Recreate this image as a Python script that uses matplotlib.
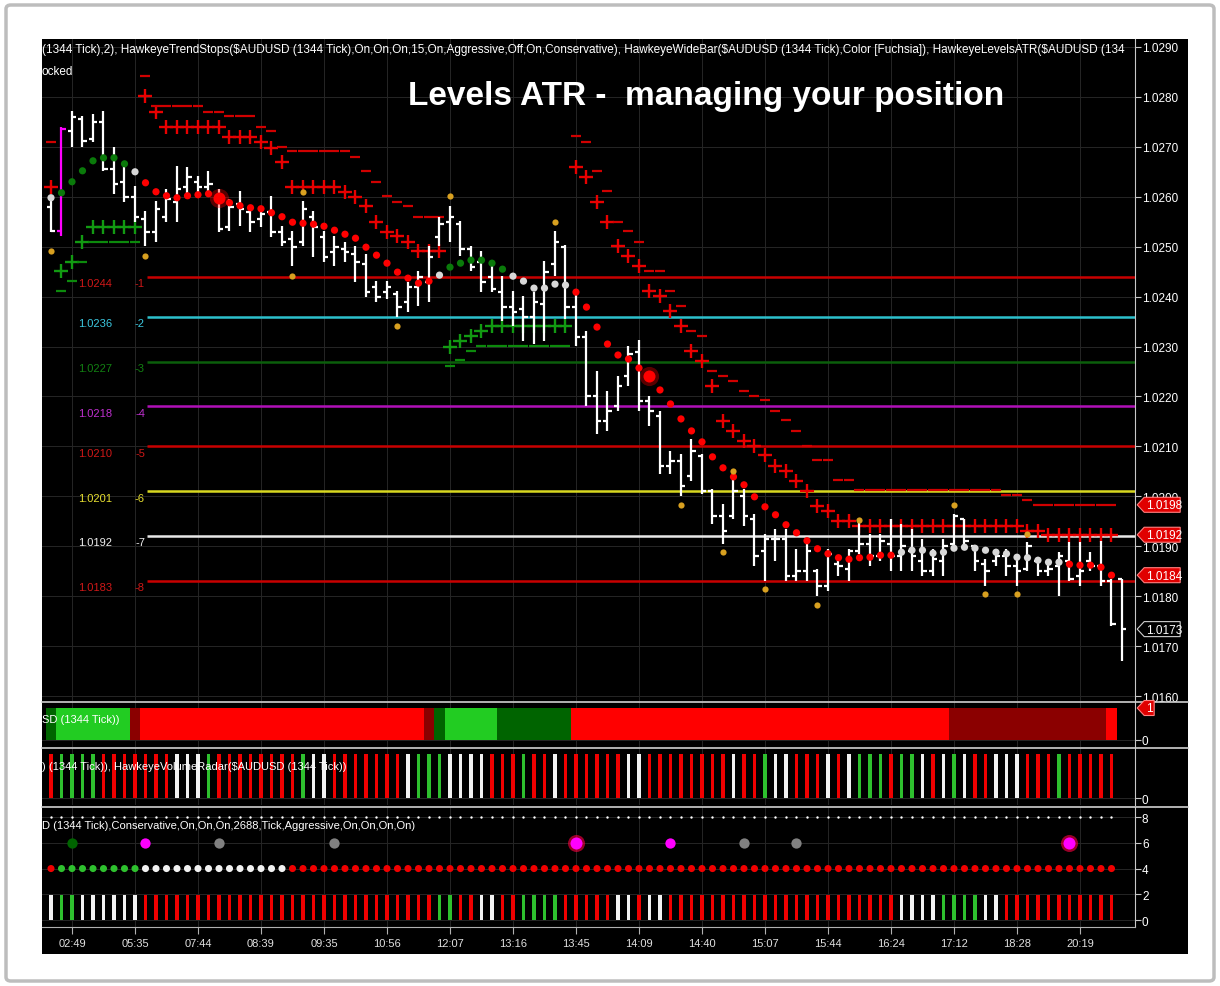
import numpy as np
import matplotlib
matplotlib.use("Agg")
import matplotlib.pyplot as plt
from matplotlib.patches import Rectangle, Polygon, FancyBboxPatch
from matplotlib.lines import Line2D
from matplotlib.transforms import ScaledTranslation

plt.rcParams['font.family'] = ['Liberation Sans', 'DejaVu Sans']

nan = np.nan

# ---- time axis ----
time_labels = ["02:49", "05:35", "07:44", "08:39", "09:35", "10:56", "12:07", "13:16", "13:45",
               "14:09", "14:40", "15:07", "15:44", "16:24", "17:12", "18:28", "20:19"]
time_label_bars = [2, 8, 14, 20, 26, 32, 38, 44, 50, 56, 62, 68, 74, 80, 86, 92, 98]

# ---- 1344 tick bars, AUDUSD ----
bar_open = [
    1.02580, 1.02531, 1.02732, 1.02755, 1.02715, 1.02750, 1.02655, 1.02630, 1.02600, 1.02555,
    1.02530, 1.02560, 1.02590, 1.02620, 1.02630, 1.02620, 1.02600, 1.02540, 1.02585, 1.02570,
    1.02555, 1.02570, 1.02530, 1.02515, 1.02510, 1.02560, 1.02520, 1.02490, 1.02495, 1.02485,
    1.02465, 1.02420, 1.02410, 1.02405, 1.02390, 1.02420, 1.02430, 1.02520, 1.02550, 1.02545,
    1.02495, 1.02470, 1.02440, 1.02410, 1.02380, 1.02375, 1.02360, 1.02385, 1.02465, 1.02500,
    1.02380, 1.02320, 1.02200, 1.02150, 1.02180, 1.02240, 1.02290, 1.02190, 1.02160, 1.02060,
    1.02070, 1.02040, 1.02080, 1.02010, 1.01960, 1.01960, 1.02000, 1.01955, 1.01890, 1.01915,
    1.01915, 1.01840, 1.01850, 1.01850, 1.01820, 1.01865, 1.01855, 1.01890, 1.01905, 1.01880,
    1.01905, 1.01880, 1.01890, 1.01870, 1.01850, 1.01870, 1.01905, 1.01955, 1.01900, 1.01865,
    1.01870, 1.01880, 1.01860, 1.01855, 1.01870, 1.01850, 1.01860, 1.01870, 1.01840, 1.01870,
    1.01860, 1.01830, 1.01834]
bar_high = [
    1.02596, 1.02740, 1.02772, 1.02762, 1.02766, 1.02772, 1.02700, 1.02670, 1.02622, 1.02572,
    1.02592, 1.02616, 1.02662, 1.02660, 1.02642, 1.02652, 1.02616, 1.02596, 1.02612, 1.02576,
    1.02582, 1.02602, 1.02541, 1.02531, 1.02592, 1.02572, 1.02531, 1.02521, 1.02509, 1.02501,
    1.02485, 1.02431, 1.02431, 1.02411, 1.02429, 1.02451, 1.02501, 1.02560, 1.02582, 1.02551,
    1.02501, 1.02491, 1.02471, 1.02441, 1.02411, 1.02401, 1.02409, 1.02471, 1.02531, 1.02503,
    1.02405, 1.02331, 1.02251, 1.02211, 1.02241, 1.02301, 1.02313, 1.02201, 1.02171, 1.02091,
    1.02085, 1.02115, 1.02085, 1.02015, 1.01985, 1.02035, 1.02015, 1.01965, 1.01925, 1.01935,
    1.01935, 1.01894, 1.01909, 1.01854, 1.01894, 1.01874, 1.01894, 1.01955, 1.01925, 1.01925,
    1.01955, 1.01945, 1.01935, 1.01915, 1.01894, 1.01915, 1.01965, 1.01955, 1.01901, 1.01874,
    1.01888, 1.01894, 1.01880, 1.01909, 1.01874, 1.01870, 1.01888, 1.01909, 1.01909, 1.01888,
    1.01911, 1.01834, 1.01834]
bar_low = [
    1.02529, 1.02521, 1.02700, 1.02700, 1.02710, 1.02652, 1.02606, 1.02590, 1.02549, 1.02501,
    1.02509, 1.02549, 1.02549, 1.02606, 1.02610, 1.02610, 1.02529, 1.02531, 1.02541, 1.02529,
    1.02539, 1.02519, 1.02501, 1.02461, 1.02501, 1.02479, 1.02469, 1.02461, 1.02469, 1.02429,
    1.02399, 1.02389, 1.02395, 1.02359, 1.02369, 1.02381, 1.02389, 1.02501, 1.02509, 1.02481,
    1.02451, 1.02409, 1.02409, 1.02351, 1.02341, 1.02311, 1.02305, 1.02311, 1.02441, 1.02355,
    1.02301, 1.02181, 1.02125, 1.02131, 1.02171, 1.02221, 1.02171, 1.02141, 1.02045, 1.02045,
    1.02001, 1.02031, 1.02005, 1.01945, 1.01905, 1.01955, 1.01941, 1.01860, 1.01830, 1.01870,
    1.01830, 1.01830, 1.01830, 1.01800, 1.01810, 1.01840, 1.01830, 1.01884, 1.01860, 1.01870,
    1.01850, 1.01850, 1.01850, 1.01840, 1.01840, 1.01840, 1.01901, 1.01901, 1.01850, 1.01820,
    1.01860, 1.01840, 1.01820, 1.01850, 1.01840, 1.01840, 1.01800, 1.01830, 1.01820, 1.01850,
    1.01820, 1.01740, 1.01670]
bar_close = [
    1.02531, 1.02736, 1.02760, 1.02712, 1.02750, 1.02655, 1.02625, 1.02600, 1.02560, 1.02530,
    1.02575, 1.02595, 1.02615, 1.02640, 1.02620, 1.02625, 1.02535, 1.02580, 1.02575, 1.02550,
    1.02565, 1.02530, 1.02510, 1.02500, 1.02575, 1.02540, 1.02480, 1.02500, 1.02490, 1.02470,
    1.02410, 1.02400, 1.02420, 1.02380, 1.02420, 1.02440, 1.02480, 1.02545, 1.02560, 1.02495,
    1.02460, 1.02430, 1.02415, 1.02380, 1.02370, 1.02360, 1.02390, 1.02450, 1.02510, 1.02380,
    1.02320, 1.02200, 1.02150, 1.02170, 1.02220, 1.02285, 1.02190, 1.02170, 1.02060, 1.02070,
    1.02020, 1.02090, 1.02010, 1.01960, 1.01930, 1.02010, 1.01960, 1.01880, 1.01915, 1.01915,
    1.01840, 1.01850, 1.01890, 1.01820, 1.01885, 1.01860, 1.01890, 1.01905, 1.01880, 1.01910,
    1.01880, 1.01900, 1.01880, 1.01850, 1.01875, 1.01900, 1.01960, 1.01910, 1.01870, 1.01850,
    1.01880, 1.01860, 1.01850, 1.01900, 1.01850, 1.01855, 1.01880, 1.01835, 1.01850, 1.01860,
    1.01830, 1.01745, 1.01734]
wide_bars = [1]

# ---- HawkeyeTrendStops: aggressive (+) and conservative (-) ----
stop_plus = [
    1.02620, 1.02451, 1.02469, 1.02509, 1.02539, 1.02539, 1.02539, 1.02539, 1.02539, 1.02802,
    1.02770, 1.02740, 1.02740, 1.02740, 1.02740, 1.02740, 1.02740, 1.02720, 1.02720, 1.02720,
    1.02710, 1.02698, 1.02670, 1.02620, 1.02620, 1.02620, 1.02620, 1.02620, 1.02610, 1.02600,
    1.02582, 1.02549, 1.02529, 1.02521, 1.02509, 1.02491, 1.02491, 1.02491, 1.02299, 1.02311,
    1.02321, 1.02331, 1.02341, 1.02341, 1.02341, 1.02341, 1.02341, 1.02341, 1.02341, 1.02341,
    1.02660, 1.02640, 1.02590, 1.02549, 1.02501, 1.02481, 1.02461, 1.02411, 1.02401, 1.02371,
    1.02341, 1.02291, 1.02271, 1.02221, 1.02151, 1.02131, 1.02111, 1.02101, 1.02083, 1.02061,
    1.02051, 1.02031, 1.02011, 1.01981, 1.01971, 1.01951, 1.01951, 1.01941, 1.01941, 1.01941,
    1.01941, 1.01941, 1.01941, 1.01941, 1.01941, 1.01941, 1.01941, 1.01941, 1.01941, 1.01941,
    1.01941, 1.01941, 1.01941, 1.01931, 1.01931, 1.01923, 1.01923, 1.01923, 1.01923, 1.01923,
    1.01923, 1.01923]
stop_dash = [
    1.02710, 1.02411, 1.02431, 1.02469, 1.02509, 1.02509, 1.02509, 1.02509, 1.02509, 1.02842,
    1.02782, 1.02782, 1.02782, 1.02782, 1.02782, 1.02770, 1.02770, 1.02762, 1.02762, 1.02762,
    1.02740, 1.02732, 1.02700, 1.02692, 1.02692, 1.02692, 1.02692, 1.02692, 1.02692, 1.02680,
    1.02652, 1.02630, 1.02602, 1.02590, 1.02582, 1.02560, 1.02560, 1.02560, 1.02261, 1.02273,
    1.02291, 1.02301, 1.02301, 1.02301, 1.02301, 1.02301, 1.02301, 1.02301, 1.02301, 1.02301,
    1.02722, 1.02710, 1.02652, 1.02612, 1.02549, 1.02531, 1.02509, 1.02451, 1.02451, 1.02411,
    1.02381, 1.02331, 1.02321, 1.02251, 1.02241, 1.02231, 1.02211, 1.02201, 1.02193, 1.02171,
    1.02153, 1.02131, 1.02101, 1.02073, 1.02073, 1.02033, 1.02033, 1.02013, 1.02013, 1.02013,
    1.02013, 1.02013, 1.02013, 1.02013, 1.02013, 1.02013, 1.02013, 1.02013, 1.02013, 1.02013,
    1.02013, 1.02003, 1.02003, 1.01993, 1.01983, 1.01983, 1.01983, 1.01983, 1.01983, 1.01983,
    1.01983, 1.01983]
up_spans = [(1, 8), (38, 49)]

# ---- trailing dots ----
trail_dots = [
    1.02598, 1.02608, 1.02630, 1.02652, 1.02672, 1.02678, 1.02678, 1.02666, 1.02650, 1.02628,
    1.02610, 1.02602, 1.02598, 1.02602, 1.02604, 1.02606, 1.02598, 1.02588, 1.02582, 1.02578,
    1.02576, 1.02568, 1.02560, 1.02549, 1.02547, 1.02545, 1.02541, 1.02533, 1.02525, 1.02517,
    1.02499, 1.02483, 1.02467, 1.02449, 1.02437, 1.02427, 1.02431, 1.02443, 1.02459, 1.02467,
    1.02473, 1.02473, 1.02467, 1.02455, 1.02441, 1.02431, 1.02417, 1.02417, 1.02425, 1.02423,
    1.02409, 1.02379, 1.02339, 1.02305, 1.02283, 1.02275, 1.02257, 1.02241, 1.02213, 1.02185,
    1.02155, 1.02131, 1.02109, 1.02079, 1.02057, 1.02039, 1.02023, 1.01999, 1.01979, 1.01963,
    1.01943, 1.01927, 1.01911, 1.01895, 1.01885, 1.01877, 1.01874, 1.01877, 1.01878, 1.01882,
    1.01882, 1.01888, 1.01892, 1.01892, 1.01886, 1.01888, 1.01896, 1.01898, 1.01896, 1.01892,
    1.01888, 1.01885, 1.01878, 1.01877, 1.01872, 1.01868, 1.01868, 1.01864, 1.01862, 1.01862,
    1.01858, 1.01842]
trail_runs = [('w', 1), ('g', 7), ('w', 1), ('r', 28), ('w', 1), ('g', 6), ('w', 6),
              ('r', 31), ('w', 16), ('r', 5)]
trail_big = [16, 57]

# swing markers
swing_bars = [0, 9, 23, 24, 33, 38, 48, 60, 64, 65, 68, 73, 77, 86, 89, 92, 93]
swing_vals = [1.02491, 1.02481, 1.02441, 1.02610, 1.02341, 1.02602, 1.02549, 1.01983, 1.01888,
              1.02051, 1.01814, 1.01782, 1.01953, 1.01983, 1.01804, 1.01804, 1.01925]

# ---- Levels ATR ----
level_values = [1.0244, 1.0236, 1.0227, 1.0218, 1.0210, 1.0201, 1.0192, 1.0183]
level_names = ["-1", "-2", "-3", "-4", "-5", "-6", "-7", "-8"]
level_line_colors = ['#c80000', '#2cc0cc', '#0b5e0b', '#b010b8', '#c80000', '#d8d820', '#e8e8e8', '#c80000']
level_text_colors = ['#d01818', '#3cc8e0', '#128012', '#c030d0', '#d01818', '#e8e030', '#f0f0f0', '#d01818']

# ---- lower panels ----
trend_runs = [('dkgreen', 1), ('green', 7), ('dkred', 1), ('red', 27), ('dkred', 1), ('dkgreen', 1),
              ('green', 5), ('dkgreen', 7), ('red', 36), ('dkred', 15), ('red', 1)]
volume_radar = ("rggggrrrrr" "rrwwwgrrrr" "rrrrgwwrrr" "rrrrwgggww" "wwrrrgrrwr"
                "rrrrrwwrrr" "rrrrrwrrgw" "wrrrwrwggg" "rggwrwgwrr" "wwwrrrgrrr" "rr")
signal_bars = ("wggwwwwwwr" "rrrrrrrrrr" "rrrrrrrrrr" "rrrrrrrggr" "rwwrrggggr"
               "rrrrwwrwwr" "rrrrrrrrrr" "rrrrrrrrrr" "rwwwwggggw" "wrrrrrrrrr" "rr")
signal_dot_runs = [('r', 1), ('g', 8), ('w', 14), ('r', 79)]
alert_bars = [2, 9, 16, 27, 50, 59, 66, 71, 97]
alert_kind = ['dkgreen', 'magenta', 'gray', 'gray', 'magenta_glow', 'magenta', 'gray', 'gray', 'magenta_glow']

header = ("(1344 Tick),2), HawkeyeTrendStops($AUDUSD (1344 Tick),On,On,On,15,On,Aggressive,Off,On,"
          "Conservative), HawkeyeWideBar($AUDUSD (1344 Tick),Color [Fuchsia]), "
          "HawkeyeLevelsATR($AUDUSD (134")

COL = {'r': '#f00000', 'g': '#2ec02e', 'w': '#f2f2f2',
       'red': '#ff0000', 'dkred': '#8b0000', 'green': '#22cc22', 'dkgreen': '#006400'}
DOT = {'r': '#ff0000', 'g': '#0a7a0a', 'w': '#d8d8d8'}


def expand(runs):
    out = []
    for c, n in runs:
        out += [c] * n
    return out


W, H = 1220.0, 987.0


def fig_rect(x0, y0, x1, y1):
    return [x0 / W, 1 - y1 / H, (x1 - x0) / W, (y1 - y0) / H]


fig = plt.figure(figsize=(12.2, 9.87), dpi=100)
fig.patch.set_facecolor('white')

# window frame and black chart area
fig.add_artist(FancyBboxPatch((6 / W, 1 - 982 / H), 1208 / W, 976 / H,
                              boxstyle='round,pad=0,rounding_size=0.004',
                              transform=fig.transFigure, fc='white', ec='#bdbdbd', lw=2.5, zorder=-3))
fig.add_artist(Rectangle((42 / W, 1 - 955 / H), 1146 / W, 915 / H, transform=fig.transFigure,
                         fc='black', ec='none', zorder=-2))

ax_p = fig.add_axes(fig_rect(42, 40, 1135, 702))
ax_t = fig.add_axes(fig_rect(42, 703, 1135, 748))
ax_v = fig.add_axes(fig_rect(42, 749, 1135, 806))
ax_d = fig.add_axes(fig_rect(42, 808, 1135, 928))

XL = (-0.857, 103.24)
for ax in (ax_p, ax_t, ax_v, ax_d):
    ax.set_facecolor('none')
    for s in ax.spines.values():
        s.set_visible(False)
    ax.spines['right'].set_visible(True)
    ax.spines['right'].set_color('#c8c8c8')
    ax.yaxis.tick_right()
    ax.tick_params(axis='y', colors='#c8c8c8', labelcolor='white', labelsize=8.5,
                   length=4, width=0.8, pad=1)
    ax.set_xticks(time_label_bars)
    ax.tick_params(axis='x', length=0, labelbottom=False)
    ax.grid(True, color='#262626', lw=0.7)
    ax.set_axisbelow(True)
    ax.set_xlim(*XL)

n = len(bar_high)
x = np.arange(n)
xi = np.arange(len(stop_plus))

# ---- price panel ----
ax_p.set_ylim(1.01590, 1.02916)
ticks = np.round(np.arange(1.0160, 1.02905, 0.001), 4)
ax_p.set_yticks(ticks, [f"{t:.4f}" for t in ticks])

for v, name, lc, tc in zip(level_values, level_names, level_line_colors, level_text_colors):
    ax_p.hlines(v, 9.15, XL[1], colors=lc, lw=1.8, zorder=2)
    ax_p.annotate(f"{v:.4f}", (5.8, v), xytext=(0, -4.5), textcoords='offset points',
                  ha='right', va='center', color=tc, fontsize=8)
    ax_p.annotate(name, (8.95, v), xytext=(0, -4.5), textcoords='offset points',
                  ha='right', va='center', color=tc, fontsize=8)

up = np.zeros(len(stop_plus), bool)
for a, b in up_spans:
    up[a:b + 1] = True
sp = np.array(stop_plus)
sd = np.array(stop_dash)
for mask, col in ((~up, '#e80000'), (up, '#129a12')):
    ax_p.plot(xi[mask], sp[mask], ls='none', marker='+', ms=9.5, mew=1.7, color=col, zorder=3)
for mask, col in ((~up, '#d00000'), (up, '#0c8a0c')):
    ax_p.plot(xi[mask], sd[mask], ls='none', marker='_', ms=6.5, mew=1.6, color=col, zorder=3)

bar_cols = ['#ff00ff' if i in wide_bars else 'white' for i in x]
ax_p.vlines(x, bar_low, bar_high, colors=bar_cols, lw=1.6, zorder=4)
ax_p.hlines(bar_open, x - 0.42, x, colors=bar_cols, lw=1.6, zorder=4)
ax_p.hlines(bar_close, x, x + 0.42, colors=bar_cols, lw=1.6, zorder=4)

tcols = expand(trail_runs)
ax_p.scatter(xi, trail_dots, s=27, c=[DOT[c] for c in tcols], lw=0, zorder=5)
big = np.array(trail_big)
ax_p.scatter(big, np.array(trail_dots)[big], s=190, c='#ff0000', alpha=0.35, lw=0, zorder=5)
ax_p.scatter(big, np.array(trail_dots)[big], s=75, c='#ff0000', lw=0, zorder=5)
ax_p.scatter(swing_bars, swing_vals, s=20, c='#d8a020', lw=0, zorder=5)

ax_p.text(0.6075, 0.914, "Levels ATR -  managing your position", transform=ax_p.transAxes,
          ha='center', va='center', fontsize=24, fontweight='bold', color='white', zorder=8)
ax_p.text(0.0, 0.985, header, transform=ax_p.transAxes, ha='left', va='center',
          fontsize=8.5, color='white', clip_on=True, zorder=8)
ax_p.text(0.0, 0.952, "ocked", transform=ax_p.transAxes, ha='left', va='center',
          fontsize=8.5, color='white', zorder=8)


def price_tag(ax, val, txt, fc, ec, tc, w=0.43):
    tr = fig.dpi_scale_trans + ScaledTranslation(1.002, val, ax.get_yaxis_transform())
    h = 0.075
    tip = 0.07
    fig.add_artist(Polygon([(0, 0), (tip, h), (w, h), (w, -h), (tip, -h)], closed=True,
                           transform=tr, fc=fc, ec=ec, lw=0.8, zorder=20))
    fig.text(tip + 0.015, -0.005, txt, transform=tr, ha='left', va='center',
             fontsize=8.5, color=tc, zorder=21)


price_tag(ax_p, stop_dash[-1], f"{stop_dash[-1]:.4f}", '#e00000', '#ff8080', 'white')
price_tag(ax_p, stop_plus[-1], f"{stop_plus[-1]:.4f}", '#e00000', '#ff8080', 'white')
price_tag(ax_p, trail_dots[-1], f"{trail_dots[-1]:.4f}", '#e00000', '#ff8080', 'white')
price_tag(ax_p, bar_close[-1], f"{bar_close[-1]:.4f}", 'black', '#d0d0d0', 'white')

# ---- trend panel ----
m = len(stop_plus)
ax_t.set_ylim(-0.219, 1.1875)
ax_t.bar(xi, np.ones(m), width=1.0, color=[COL[c] for c in expand(trend_runs)], lw=0, zorder=3)
ax_t.set_yticks([0], ["0"])
ax_t.text(0.0, 0.62, "SD (1344 Tick))", transform=ax_t.transAxes, ha='left', va='center',
          fontsize=8, color='white', zorder=5)
price_tag(ax_t, 1, "1", '#e00000', '#ff8080', 'white', w=0.17)

# ---- volume radar ----
ax_v.set_ylim(-0.159, 1.136)
ax_v.bar(xi, np.ones(m), width=0.3, color=[COL[c] for c in volume_radar], lw=0, zorder=3)
ax_v.set_yticks([0], ["0"])
ax_v.text(0.0, 0.68, ") (1344 Tick)), HawkeyeVolumeRadar($AUDUSD (1344 Tick))", transform=ax_v.transAxes,
          ha='left', va='center', fontsize=8, color='white', zorder=5)

# ---- signal panel ----
ax_d.set_ylim(-0.54, 8.78)
ax_d.set_yticks([0, 2, 4, 6, 8], ["0", "2", "4", "6", "8"])
ax_d.bar(xi, np.full(m, 1.95), width=0.3, color=[COL[c] for c in signal_bars], lw=0, zorder=3)
ax_d.scatter(xi, np.full(m, 4), s=26, c=[COL[c] for c in expand(signal_dot_runs)], lw=0, zorder=4)
ax_d.scatter(xi, np.full(m, 8), s=3, c='white', lw=0, zorder=4)
kind_style = {'dkgreen': ('#006400', 55), 'magenta': ('#ff00ff', 55),
              'gray': ('#808080', 55), 'magenta_glow': ('#ff00ff', 75)}
for b, k in zip(alert_bars, alert_kind):
    c, s = kind_style[k]
    if k == 'magenta_glow':
        ax_d.scatter([b], [6], s=150, c='#ff0040', alpha=0.6, lw=0, zorder=4)
    ax_d.scatter([b], [6], s=s, c=c, lw=0, zorder=5)
ax_d.text(0.0, 0.85, "D (1344 Tick),Conservative,On,On,On,2688,Tick,Aggressive,On,On,On,On)",
          transform=ax_d.transAxes, ha='left', va='center', fontsize=8, color='white', zorder=6)

ax_d.spines['bottom'].set_visible(True)
ax_d.spines['bottom'].set_color('#b0b0b0')
ax_d.set_xticks(time_label_bars, time_labels)
ax_d.tick_params(axis='x', colors='#b0b0b0', labelcolor='#e0e0e0', labelsize=8,
                 length=5, width=0.8, labelbottom=True, pad=3)

# panel separators
for yy in (702.5, 748.5, 807.5):
    fig.add_artist(Line2D([42 / W, 1188 / W], [1 - yy / H, 1 - yy / H], color='#d0d0d0', lw=1.2))

fig.savefig("out.png", dpi=100, facecolor='white')
